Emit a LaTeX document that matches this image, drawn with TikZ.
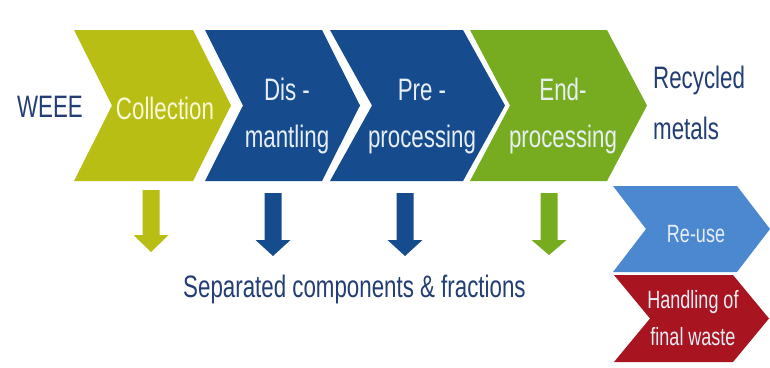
\documentclass[tikz,border=0pt]{standalone}
\usepackage{fontspec}
\setmainfont{Liberation Sans}[FakeStretch=0.72]
\definecolor{olive}{RGB}{184,190,20}
\definecolor{navy}{RGB}{22,76,142}
\definecolor{leaf}{RGB}{120,172,32}
\definecolor{sky}{RGB}{76,136,208}
\definecolor{wine}{RGB}{168,20,32}
\definecolor{ink}{RGB}{34,62,116}
\definecolor{cream}{RGB}{248,248,215}
\definecolor{pale}{RGB}{232,238,246}
% chevron: left x, right shoulder x, point depth, top y, bottom y, colour
\newcommand\chevshape[6]{%
  \fill[#6] (#1,#4) -- (#2,#4) -- ({#2+#3},{(#4+#5)/2}) -- (#2,#5)
    -- (#1,#5) -- ({#1+#3},{(#4+#5)/2}) -- cycle;}
% block arrow pointing down: centre x, top y, head base y, tip y, colour
\newcommand\droparrow[5]{%
  \fill[#5] ({#1-8.5},#2) -- ({#1+8.5},#2) -- ({#1+8.5},#3) -- ({#1+17.5},#3)
    -- (#1,#4) -- ({#1-17.5},#3) -- ({#1-8.5},#3) -- cycle;}
\begin{document}
\begin{tikzpicture}[x=1pt,y=-1pt,
  lbl/.style={font=\fontsize{31}{47}\selectfont, inner sep=0pt, align=center},
  inlbl/.style={lbl, text=pale},
  outlbl/.style={lbl, text=ink},
  smalllbl/.style={font=\fontsize{25}{37}\selectfont, inner sep=0pt, align=center, text=pale}]
\fill[white] (0,0) rectangle (770,367);
\useasboundingbox (0,0) rectangle (770,367);

% process chain
\chevshape{74}{193}{38}{30}{181}{olive}
\chevshape{205}{322}{38}{30}{181}{navy}
\chevshape{330}{463}{42}{30}{181}{navy}
\chevshape{470}{607}{40}{30}{181}{leaf}

% outlets
\chevshape{613}{737}{33}{186}{272}{sky}
\chevshape{614}{733}{36}{275}{362}{wine}

% separated fractions
\droparrow{151}{190}{235}{252}{olive}
\droparrow{273}{193}{240}{256}{navy}
\droparrow{405}{193}{240}{256}{navy}
\droparrow{549}{193}{240}{255}{leaf}

% labels (base anchor of a two-line label sits on its last line)
\node[outlbl, anchor=base] (weee) at (50,117) {WEEE};
\node[inlbl, anchor=base, text=cream] (coll) at (165,119) {Collection};
\node[inlbl, anchor=base] (dism) at (287,147) {Dis -\\mantling};
\node[inlbl, anchor=base] (pre) at (422,147) {Pre -\\processing};
\node[inlbl, anchor=base] (endp) at (563,147) {End-\\processing};
\node[outlbl, anchor=base west, align=left, font=\fontsize{31}{51}\selectfont] (rec) at (653,139) {Recycled\\metals};
\node[outlbl, anchor=base west] (sep) at (183,297) {Separated components \& fractions};
\node[smalllbl, anchor=base] (reuse) at (696,242) {Re-use};
\node[smalllbl, anchor=base] (hand) at (693,345) {Handling of\\final waste};
\end{tikzpicture}
\end{document}
